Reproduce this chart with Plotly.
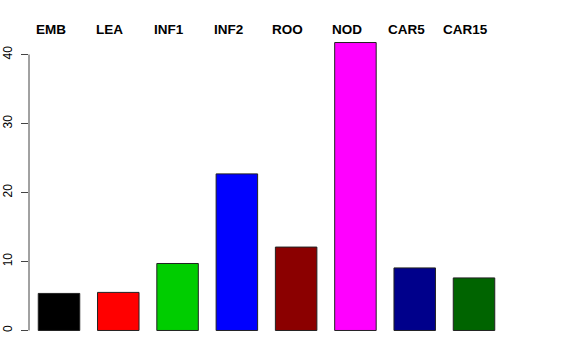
import plotly.graph_objects as go

categories = ["EMB", "LEA", "INF1", "INF2", "ROO", "NOD", "CAR5", "CAR15"]
values = [5.37, 5.52, 9.71, 22.7, 12.09, 41.74, 9.07, 7.62]
colors = ["#000000", "#FF0000", "#00CD00", "#0000FF", "#8B0000", "#FF00FF", "#00008B", "#006400"]
yticks = [0, 10, 20, 30, 40]

fig = go.Figure()
fig.add_trace(go.Bar(
    x=categories, y=values,
    marker=dict(color=colors, line=dict(color="#222222", width=1)),
    showlegend=False,
))

for c in categories:
    fig.add_annotation(x=c, y=1, xref="x", yref="paper", text=c,
                       showarrow=False, yanchor="middle", yshift=1.6, xshift=-8.5,
                       font=dict(family="Liberation Sans", size=13.5, color="black", weight="bold"))

fig.add_shape(type="line", xref="paper", yref="y", x0=0, x1=0, y0=yticks[0], y1=yticks[-1],
              line=dict(color="#444444", width=1))

fig.update_layout(
    width=576, height=360,
    margin=dict(l=29, r=72, t=31, b=18, autoexpand=False),
    paper_bgcolor="white", plot_bgcolor="white",
    bargap=0.3,
    xaxis=dict(visible=False, range=[-0.506, 7.506], automargin=False),
    yaxis=dict(range=[-1.67, 43.41], tickvals=yticks, ticktext=[str(t) for t in yticks],
               ticks="outside", ticklen=7, tickcolor="#444444", tickangle=-90,
               showgrid=False, zeroline=False, showline=False, automargin=False,
               ticklabelstandoff=4,
               tickfont=dict(family="Liberation Sans", size=12, color="black")),
    font=dict(family="Liberation Sans"),
)

fig.write_html("out.html", config={"displayModeBar": False},
               post_script="document.body.style.margin='0';")
